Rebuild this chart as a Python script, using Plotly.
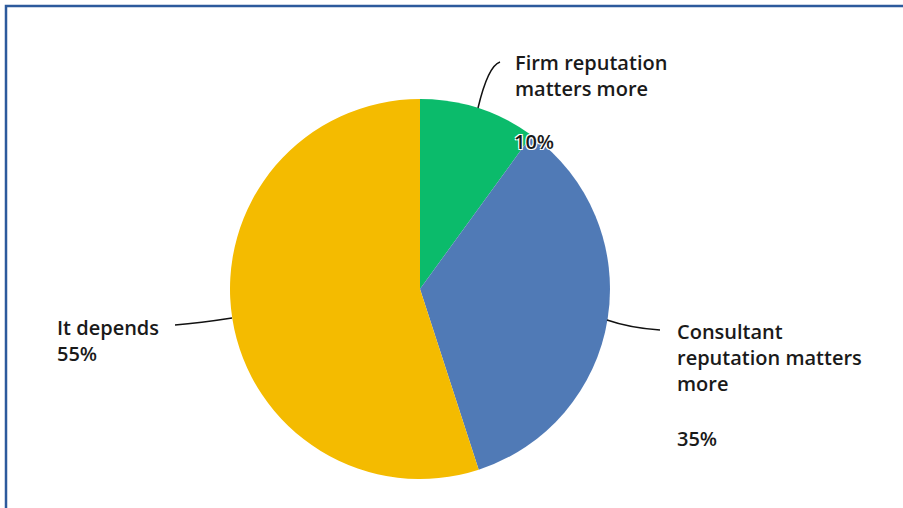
import plotly.graph_objects as go

labels = ["Firm reputation matters more", "Consultant reputation matters more", "It depends"]
values = [10, 35, 55]
colors = ["#0bbb6b", "#507ab6", "#f4bb00"]

W, H = 903, 508
FONT = "Open Sans"
TXT = "#1a1a1a"


def px(x):
    return x / W


def py(y):
    return 1 - y / H


fig = go.Figure(go.Pie(
    labels=labels,
    values=values,
    marker=dict(colors=colors, line=dict(width=0)),
    sort=False,
    direction="clockwise",
    rotation=0,
    textinfo="none",
    hoverinfo="label+percent",
    domain=dict(x=[px(230), px(610)], y=[py(479), py(99)]),
    showlegend=False,
))

annotations = [
    dict(x=px(513), y=py(76), text="Firm reputation<br>matters more", xanchor="left", yanchor="middle", align="left"),
    dict(x=px(512), y=py(142), text="10%", xanchor="left", yanchor="middle", align="left",
         shadow="1px 1px 0 #fff, -1px -1px 0 #fff, 1px -1px 0 #fff, -1px 1px 0 #fff"),
    dict(x=px(675), y=py(357), text="Consultant<br>reputation matters<br>more", xanchor="left", yanchor="middle", align="left"),
    dict(x=px(675), y=py(438), text="35%", xanchor="left", yanchor="middle", align="left"),
    dict(x=px(55), y=py(340), text="It depends<br>55%", xanchor="left", yanchor="middle", align="left"),
]
anns = []
for a in annotations:
    shadow = a.pop("shadow", None)
    font = dict(family=FONT, size=20, color=TXT, weight=600)
    if shadow:
        font["shadow"] = shadow
    anns.append(dict(a, xref="paper", yref="paper", showarrow=False, font=font))

leader = dict(type="path", xref="paper", yref="paper", line=dict(color="#111", width=1.5))
shapes = [
    dict(leader, path=f"M {px(478)},{py(108)} Q {px(488)},{py(66)} {px(500)},{py(62)}"),
    dict(leader, path=f"M {px(607)},{py(320)} Q {px(630)},{py(328)} {px(660)},{py(330)}"),
    dict(leader, path=f"M {px(232)},{py(318)} Q {px(200)},{py(323)} {px(175)},{py(325)}"),
    # outer frame: only top and left edges are visible in the crop
    dict(type="path", xref="paper", yref="paper",
         path=f"M {px(6)},{py(508)} L {px(6)},{py(6)} L {px(903)},{py(6)}",
         line=dict(color="#2c5a9c", width=2.5)),
]

fig.update_layout(
    width=W,
    height=H,
    margin=dict(l=0, r=0, t=0, b=0),
    paper_bgcolor="#ffffff",
    plot_bgcolor="#ffffff",
    annotations=anns,
    shapes=shapes,
)

fig.write_html(
    "out.html",
    config={"displayModeBar": False},
    post_script="document.body.style.margin='0';",
)
